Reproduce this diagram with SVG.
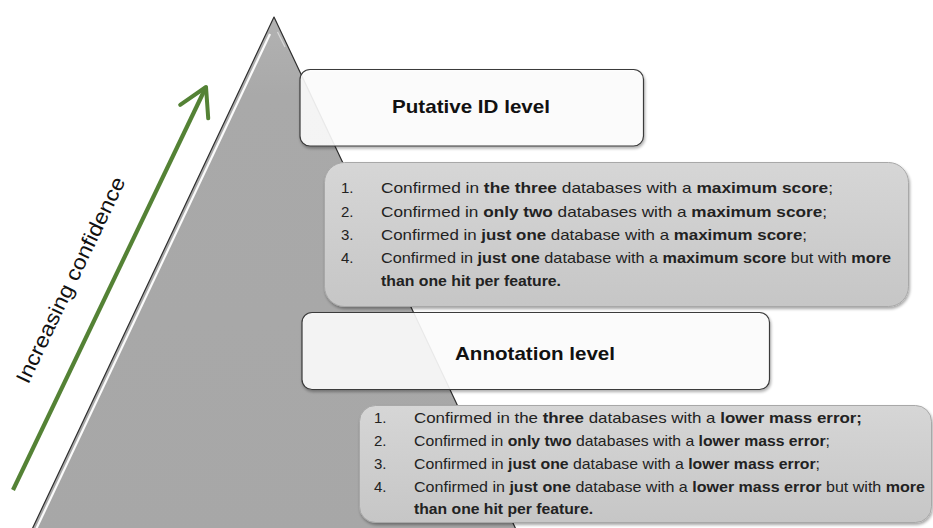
<svg xmlns="http://www.w3.org/2000/svg" width="933" height="528" viewBox="0 0 933 528">
<defs>
<linearGradient id="tri" x1="0" y1="0" x2="0" y2="1">
<stop offset="0" stop-color="#b2b2b2"/>
<stop offset="0.15" stop-color="#a9a9a9"/>
<stop offset="1" stop-color="#a7a7a7"/>
</linearGradient>
<linearGradient id="listFill" x1="0" y1="0" x2="0" y2="1">
<stop offset="0" stop-color="#d6d6d6"/>
<stop offset="1" stop-color="#c6c6c6"/>
</linearGradient>
<filter id="shadow" x="-5%" y="-10%" width="110%" height="125%">
<feGaussianBlur in="SourceAlpha" stdDeviation="1.5"/>
<feOffset dx="1" dy="2" result="b"/>
<feComponentTransfer><feFuncA type="linear" slope="0.35"/></feComponentTransfer>
<feMerge><feMergeNode/><feMergeNode in="SourceGraphic"/></feMerge>
</filter>
<marker id="chev" viewBox="0 0 10 10" refX="8" refY="5" markerWidth="10" markerHeight="10" orient="auto" markerUnits="strokeWidth">
<path d="M1.5,1.3 L8,5 L1.5,8.7" fill="none" stroke="#548235" stroke-width="0.95" stroke-linecap="round" stroke-linejoin="round"/>
</marker>
</defs>
<style>
.level{fill:#ffffff;fill-opacity:0.88;stroke:#3a3a3a;stroke-width:1.2}
.list{fill:url(#listFill);stroke:#a8a8a8;stroke-width:1}
.title{font-family:"Liberation Sans",Arial,sans-serif;font-weight:bold;font-size:19px;fill:#111;text-anchor:middle}
.item{font-family:"Liberation Sans",Arial,sans-serif;font-size:15px;fill:#222}
.b{font-weight:bold}
.conf{font-family:"Liberation Sans",Arial,sans-serif;font-size:21px;fill:#111;text-anchor:middle}
</style>
<rect width="933" height="528" fill="#ffffff"/>
<g id="pyramid">
<polygon points="274,17 521,540 27,540" fill="url(#tri)" stroke="#2e2e2e" stroke-width="1.2" stroke-linejoin="round"/>
<line x1="270" y1="34" x2="30.5" y2="541" stroke="#ffffff" stroke-width="2.2" opacity="0.95"/>
<line x1="277.5" y1="32" x2="285" y2="47" stroke="#ffffff" stroke-width="1.2" opacity="0.5"/>
</g>
<g id="connectors">
<line x1="13" y1="490" x2="206" y2="87" stroke="#548235" stroke-width="4.2" marker-end="url(#chev)"/>
</g>
<g id="confidence-label">
<text class="conf" x="77" y="283" transform="rotate(-64.4 77 283)" textLength="226" lengthAdjust="spacingAndGlyphs">Increasing confidence</text>
</g>
<g id="putative-level">
<rect class="level" x="300" y="69.5" width="343.5" height="76.5" rx="10" filter="url(#shadow)"/>
<text class="title" x="471" y="113" textLength="158" lengthAdjust="spacingAndGlyphs">Putative ID level</text>
</g>
<g id="putative-criteria">
<rect class="list" x="324.5" y="162.5" width="584" height="144" rx="20" filter="url(#shadow)"/>
<text class="item" x="341" y="193">1.</text>
<text class="item" x="381" y="193" textLength="452" lengthAdjust="spacingAndGlyphs">Confirmed in <tspan class="b">the three</tspan> databases with a <tspan class="b">maximum score</tspan>;</text>
<text class="item" x="341" y="217">2.</text>
<text class="item" x="381" y="217" textLength="446" lengthAdjust="spacingAndGlyphs">Confirmed in <tspan class="b">only two</tspan> databases with a <tspan class="b">maximum score</tspan>;</text>
<text class="item" x="341" y="240">3.</text>
<text class="item" x="381" y="240" textLength="426" lengthAdjust="spacingAndGlyphs">Confirmed in <tspan class="b">just one</tspan> database with a <tspan class="b">maximum score</tspan>;</text>
<text class="item" x="341" y="263">4.</text>
<text class="item" x="381" y="263" textLength="510" lengthAdjust="spacingAndGlyphs">Confirmed in <tspan class="b">just one</tspan> database with a <tspan class="b">maximum score</tspan> but with <tspan class="b">more</tspan></text>
<text class="item b" x="381" y="286" textLength="180" lengthAdjust="spacingAndGlyphs">than one hit per feature.</text>
</g>
<g id="annotation-level">
<rect class="level" x="302" y="312.5" width="467.5" height="77" rx="10" filter="url(#shadow)"/>
<text class="title" x="535" y="360" textLength="160" lengthAdjust="spacingAndGlyphs">Annotation level</text>
</g>
<g id="annotation-criteria">
<rect class="list" x="359.5" y="405.5" width="572" height="117" rx="16" filter="url(#shadow)"/>
<text class="item" x="374" y="423">1.</text>
<text class="item" x="414" y="423" textLength="448" lengthAdjust="spacingAndGlyphs">Confirmed in the <tspan class="b">three</tspan> databases with a <tspan class="b">lower mass error;</tspan></text>
<text class="item" x="374" y="446">2.</text>
<text class="item" x="414" y="446" textLength="416" lengthAdjust="spacingAndGlyphs">Confirmed in <tspan class="b">only two</tspan> databases with a <tspan class="b">lower mass error</tspan>;</text>
<text class="item" x="374" y="469">3.</text>
<text class="item" x="414" y="469" textLength="406" lengthAdjust="spacingAndGlyphs">Confirmed in <tspan class="b">just one</tspan> database with a <tspan class="b">lower mass error</tspan>;</text>
<text class="item" x="374" y="492">4.</text>
<text class="item" x="414" y="492" textLength="511" lengthAdjust="spacingAndGlyphs">Confirmed in <tspan class="b">just one</tspan> database with a <tspan class="b">lower mass error</tspan> but with <tspan class="b">more</tspan></text>
<text class="item b" x="414" y="514" textLength="179" lengthAdjust="spacingAndGlyphs">than one hit per feature.</text>
</g>
</svg>
